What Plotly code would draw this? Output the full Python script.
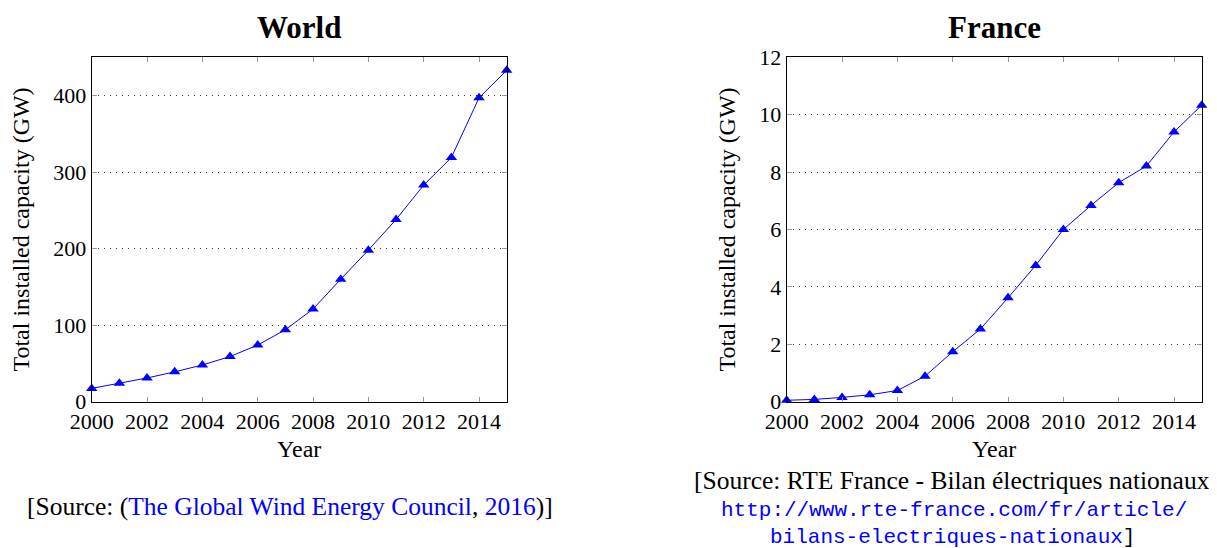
import plotly.graph_objects as go
from plotly.subplots import make_subplots

years = list(range(2000, 2016))
world_gw = [17.4, 24, 31, 39, 48, 59, 74, 94, 121, 160, 198, 238, 283, 319, 397, 433]
france_gw = [0.05, 0.08, 0.15, 0.24, 0.39, 0.89, 1.74, 2.53, 3.62, 4.75, 6.0, 6.84, 7.63, 8.21, 9.40, 10.33]
x_ticks = list(range(2000, 2015, 2))
world_yticks = [0, 100, 200, 300, 400]
france_yticks = [0, 2, 4, 6, 8, 10, 12]

SERIF = "Liberation Serif"
MONO = "Liberation Mono"

fig = make_subplots(rows=1, cols=2)

for col, vals in [(1, world_gw), (2, france_gw)]:
    fig.add_trace(go.Scatter(
        x=years, y=vals, mode="lines+markers",
        line=dict(color="blue", width=1),
        marker=dict(symbol="triangle-up", size=10, color="blue"),
        showlegend=False, cliponaxis=False,
    ), row=1, col=col)

# page body has an 8px margin: size the figure to fit and place in page pixels
OFF = 8
W, H = 1217 - OFF, 548 - OFF
def fx(px):
    return (px - OFF) / W
def fy(py):
    return 1 - (py - OFF) / H

fig.update_layout(
    width=W, height=H,
    margin=dict(l=0, r=0, t=0, b=0, autoexpand=False),
    paper_bgcolor="white", plot_bgcolor="white",
    font=dict(family=SERIF, size=22, color="black"),
    xaxis=dict(domain=[fx(91.7), fx(506.7)]),
    xaxis2=dict(domain=[fx(786.7), fx(1201.7)]),
    yaxis=dict(domain=[fy(401.7), fy(57.3)]),
    yaxis2=dict(domain=[fy(401.7), fy(57.3)]),
)

common_x = dict(
    range=[2000, 2015], tickvals=x_ticks, ticktext=[str(t) for t in x_ticks],
    ticks="inside", ticklen=5, tickcolor="#999999", tickwidth=1,
    showline=True, linecolor="black", linewidth=1, mirror="ticks",
    showgrid=False, zeroline=False, automargin=False,
    title=dict(text="Year", standoff=7, font=dict(size=24)),
    tickfont=dict(size=22),
)
fig.update_xaxes(**common_x)

common_y = dict(
    ticks="inside", ticklen=5, tickcolor="#999999", tickwidth=1,
    showline=True, linecolor="black", linewidth=1, mirror="ticks",
    showgrid=True, gridcolor="#333333", griddash="1px,5px", gridwidth=1,
    zeroline=False, tickfont=dict(size=22), automargin=False,
    title=dict(text="Total installed capacity (GW)", standoff=16, font=dict(size=24)),
)
fig.update_yaxes(range=[0, 450], tickvals=world_yticks, **common_y, row=1, col=1)
fig.update_yaxes(range=[0, 12], tickvals=france_yticks, **common_y, row=1, col=2)

annotations = [
    dict(text="<b>World</b>", x=fx(299), y=fy(27), font=dict(size=31)),
    dict(text="<b>France</b>", x=fx(994), y=fy(27), font=dict(size=31)),
    dict(text="[Source: (<span style='color:blue'>The Global Wind Energy Council</span>, "
              "<span style='color:blue'>2016</span>)]",
         x=fx(290), y=fy(506), font=dict(size=25.5)),
    dict(text="[Source: RTE France - Bilan électriques nationaux",
         x=fx(952), y=fy(480), font=dict(size=25.5)),
    dict(text="http://www.rte-france.com/fr/article/",
         x=fx(954), y=fy(510), font=dict(size=21, family=MONO, color="blue")),
    dict(text="<span style='color:blue;font-family:Liberation Mono'>bilans-electriques-nationaux</span>]",
         x=fx(952), y=fy(537), font=dict(size=21, family=MONO, color="black")),
]
for a in annotations:
    a.update(xref="paper", yref="paper", showarrow=False, xanchor="center", yanchor="middle")
fig.update_layout(annotations=annotations)

fig.write_html("out.html")
